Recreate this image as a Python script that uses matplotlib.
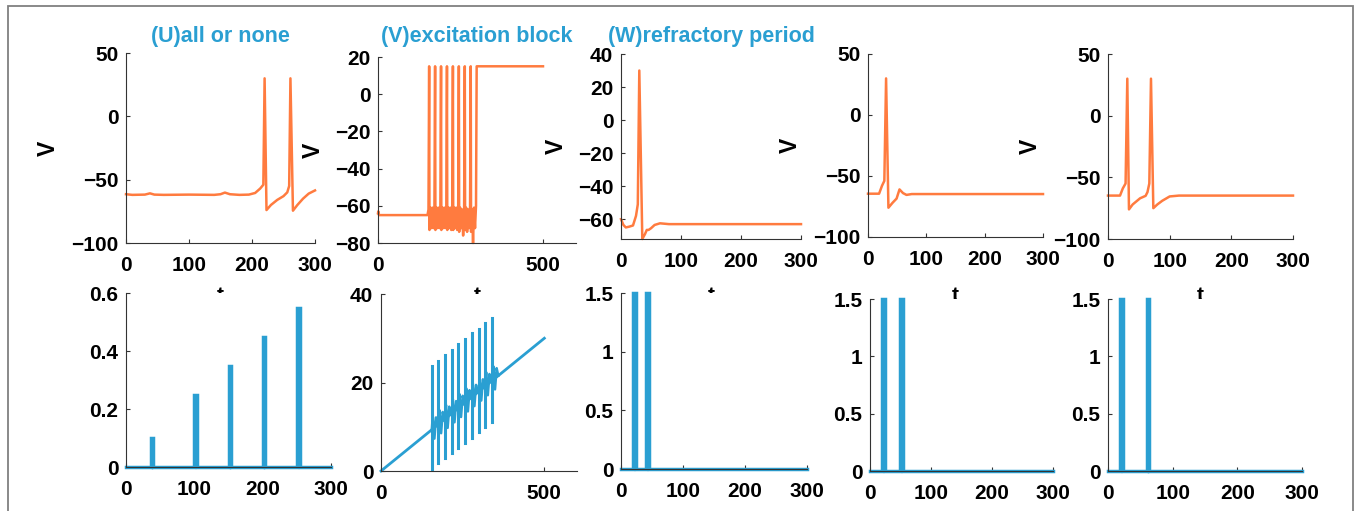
import numpy as np
import matplotlib
matplotlib.use("Agg")
import matplotlib.pyplot as plt
from matplotlib.patches import Rectangle

ORANGE = '#ff7b3f'
BLUE = '#2a9fd2'

titles = ['(U)all or none', '(V)excitation block', '(W)refractory period', '', '']

# membrane potential traces (t, V)
t_u = [0, 10, 30, 38, 45, 60, 100, 140, 150, 157, 165, 180, 195, 205, 213, 218, 220, 223,
       230, 240, 250, 256, 259, 261, 265, 272, 281, 290, 300]
v_u = [-61.5, -62, -61.8, -60.8, -61.8, -62, -61.8, -62, -61.5, -60.2, -61.5, -62, -61.8,
       -60.5, -57, -54, 30, -74, -70, -66, -63, -60, -55, 30, -74.5, -70, -65, -61, -58.5]

t_v = [0, 1, 3, 150, 153,
       155, 156, 159, 162, 165, 168, 171,
       173, 174, 177, 180, 183, 186, 189,
       191, 192, 195, 198, 201, 204, 207,
       209, 210, 213, 216, 219, 222, 225,
       227, 228, 231, 234, 237, 240, 243,
       245, 246, 249, 252, 255, 258, 261,
       263, 264, 267, 270, 273, 276, 279,
       281, 282, 285, 288, 291, 294, 297,
       299, 500]
v_v = [-64, -63, -65, -65, -62,
       15, -73, -61, -72, -61, -72, -61,
       15, -73, -61, -72, -61, -72, -61,
       15, -73, -61, -72, -61, -72, -61,
       15, -73, -61, -72, -61, -73, -61,
       15, -73, -61, -72, -61, -73, -61,
       15, -74, -61, -72, -62, -76, -61,
       15, -73, -61, -74, -62, -72, -60,
       15, -74, -62, -80, -61, -72, -60,
       15, 15]

t_w = [0, 4, 8, 14, 20, 25, 28, 30.5, 35.5, 40, 43, 46, 50, 56, 65, 80, 300]
v_w = [-60, -63.5, -65, -64.5, -63.8, -58, -51, 30, -72, -69, -66.5, -66.5, -65.5, -63.5,
       -62.5, -63, -63]

t_x = [0, 19, 24, 28, 31, 35, 42, 49, 54, 60, 66, 75, 300]
v_x = [-64.5, -64.5, -58, -54, 30, -76, -72, -68.5, -61, -64, -65.5, -64.8, -64.8]

t_y = [0, 19.5, 24, 28.5, 31.3, 34, 40, 52, 61, 64, 67, 69.7, 73.5, 80, 88, 100, 115, 300]
v_y = [-64.8, -64.8, -59, -55, 30, -76, -72, -67, -65, -62, -55, 30, -75, -72, -69, -65.5,
       -64.8, -64.8]

# stimulus pulses: (start, end, amplitude)
pulses_u = [(36, 40, 0.1), (100, 104, 0.25), (150, 154, 0.35), (200, 204, 0.45), (250, 254, 0.55)]
pulses_w = [(20, 24, 1.5), (41, 45, 1.5)]
pulses_x = [(20, 24, 1.5), (50, 54, 1.5)]
pulses_y = [(19, 23, 1.5), (60, 64, 1.5)]

# ramp current with spike kicks (excitation block)
ramp_t = [0, 500]
ramp_i = [0, 30]
kick_t = [155.5, 176, 196, 217, 237, 258, 278, 299, 319, 341]
kick_top = [23.7, 24.9, 26.2, 27.3, 28.6, 29.8, 31.1, 32.2, 33.4, 34.5]
kick_bot = [0.5, 1.7, 2.9, 4.0, 5.1, 6.3, 7.4, 8.9, 10.0, 11.1]
wiggle_dt = [0, 3, 8, 13, 18]
wiggle_dv = [0, 3, -2.5, 2, 0]


def pulse_train(pulses, t_end):
    t, v = [0], [0]
    for a, b, h in pulses:
        t += [a, a, b, b]
        v += [0, h, h, 0]
    t.append(t_end)
    v.append(0)
    return t, v


plt.rcParams['font.family'] = ['Liberation Sans', 'DejaVu Sans']
plt.rcParams['font.weight'] = 'bold'

W, H = 1357, 511
fig = plt.figure(figsize=(W / 100, H / 100), dpi=100)


def add_ax(l, r, t, b):
    return fig.add_axes([l / W, 1 - b / H, (r - l) / W, (b - t) / H])


def style(ax, xpad=9.5):
    for s in ['top', 'right']:
        ax.spines[s].set_visible(False)
    for s in ['left', 'bottom']:
        ax.spines[s].set_color('#333333')
        ax.spines[s].set_linewidth(0.8)
    ax.tick_params(direction='in', length=3, width=0.8, color='#333333', labelsize=15)
    ax.tick_params(axis='x', pad=xpad)
    ax.tick_params(axis='y', pad=5.5)


top_boxes = [(126, 315, 53, 243), (378, 576, 57, 243), (621, 801, 54, 239),
             (868, 1043, 54, 237), (1108, 1293, 54, 239)]
bot_boxes = [(126, 331, 293, 467), (381, 577, 294, 471), (621, 807, 293, 469),
             (870, 1053, 299, 471), (1108, 1302, 299, 471)]
vlab_right = [60, 325, 568, 802, 1042]

traces = [(t_u, v_u), (t_v, v_v), (t_w, v_w), (t_x, v_x), (t_y, v_y)]
top_xlim = [300, 600, 300, 300, 300]
top_ylim = [(-100, 50), (-80, 20), (-72, 40), (-100, 50), (-100, 50)]
top_yticks = [[-100, -50, 0, 50], [-80, -60, -40, -20, 0, 20], [-60, -40, -20, 0, 20, 40],
              [-100, -50, 0, 50], [-100, -50, 0, 50]]
top_xticks = [[0, 100, 200, 300], [0, 500], [0, 100, 200, 300], [0, 100, 200, 300],
              [0, 100, 200, 300]]

for i, (l, r, t, b) in enumerate(top_boxes):
    ax = add_ax(l, r, t, b)
    style(ax)
    ax.plot(traces[i][0], traces[i][1], color=ORANGE, lw=1.8, clip_on=False)
    ax.set_xlim(0, top_xlim[i])
    ax.set_ylim(*top_ylim[i])
    ax.set_xticks(top_xticks[i])
    ax.set_yticks(top_yticks[i])
    ax.set_ylabel('V', fontsize=16.5, fontweight='bold')
    ax.yaxis.set_label_coords(-(l - vlab_right[i]) / (r - l), 0.5)
    ax.set_xlabel('t', fontsize=15, fontweight='bold', va='top')
    ax.xaxis.set_label_coords(0.5, -(286 - b) / (b - t))
    if titles[i]:
        fig.text((l + r) / 2 / W, 1 - 42 / H, titles[i], color=BLUE, fontsize=15.5,
                 fontweight='bold', ha='center', va='baseline')

pulse_sets = [pulses_u, None, pulses_w, pulses_x, pulses_y]
bot_ylim = [0.6, 40, 1.5, 1.5, 1.5]
bot_yticks = [[0, 0.2, 0.4, 0.6], [0, 20, 40], [0, 0.5, 1, 1.5], [0, 0.5, 1, 1.5],
              [0, 0.5, 1, 1.5]]

for i, (l, r, t, b) in enumerate(bot_boxes):
    ax = add_ax(l, r, t, b)
    style(ax)
    if pulse_sets[i] is not None:
        pt, pv = pulse_train(pulse_sets[i], 300)
        ax.plot(pt, pv, color=BLUE, lw=2.5, clip_on=False, solid_joinstyle='miter')
        ax.set_xlim(0, 300)
        ax.set_xticks([0, 100, 200, 300])
    else:
        ax.plot(ramp_t, ramp_i, color=BLUE, lw=2, clip_on=False)
        for k, tk in enumerate(kick_t):
            ax.plot([tk, tk], [kick_bot[k], kick_top[k]], color=BLUE, lw=2.2, clip_on=False)
            wt = [tk + d for d in wiggle_dt]
            wv = [np.interp(x, ramp_t, ramp_i) + d for x, d in zip(wt, wiggle_dv)]
            ax.plot(wt, wv, color=BLUE, lw=1.8, clip_on=False)
        ax.set_xlim(0, 600)
        ax.set_xticks([0, 500])
    ax.set_ylim(0, bot_ylim[i])
    ax.set_yticks(bot_yticks[i])
    ax.set_yticklabels([('%g' % v) for v in bot_yticks[i]])

fig.add_artist(Rectangle((8 / W, -0.02), (1353 - 8) / W, 1 - 6 / H + 0.02,
                         transform=fig.transFigure, fill=False, ec='#808080', lw=1.3))

fig.savefig('out.png', dpi=100)
